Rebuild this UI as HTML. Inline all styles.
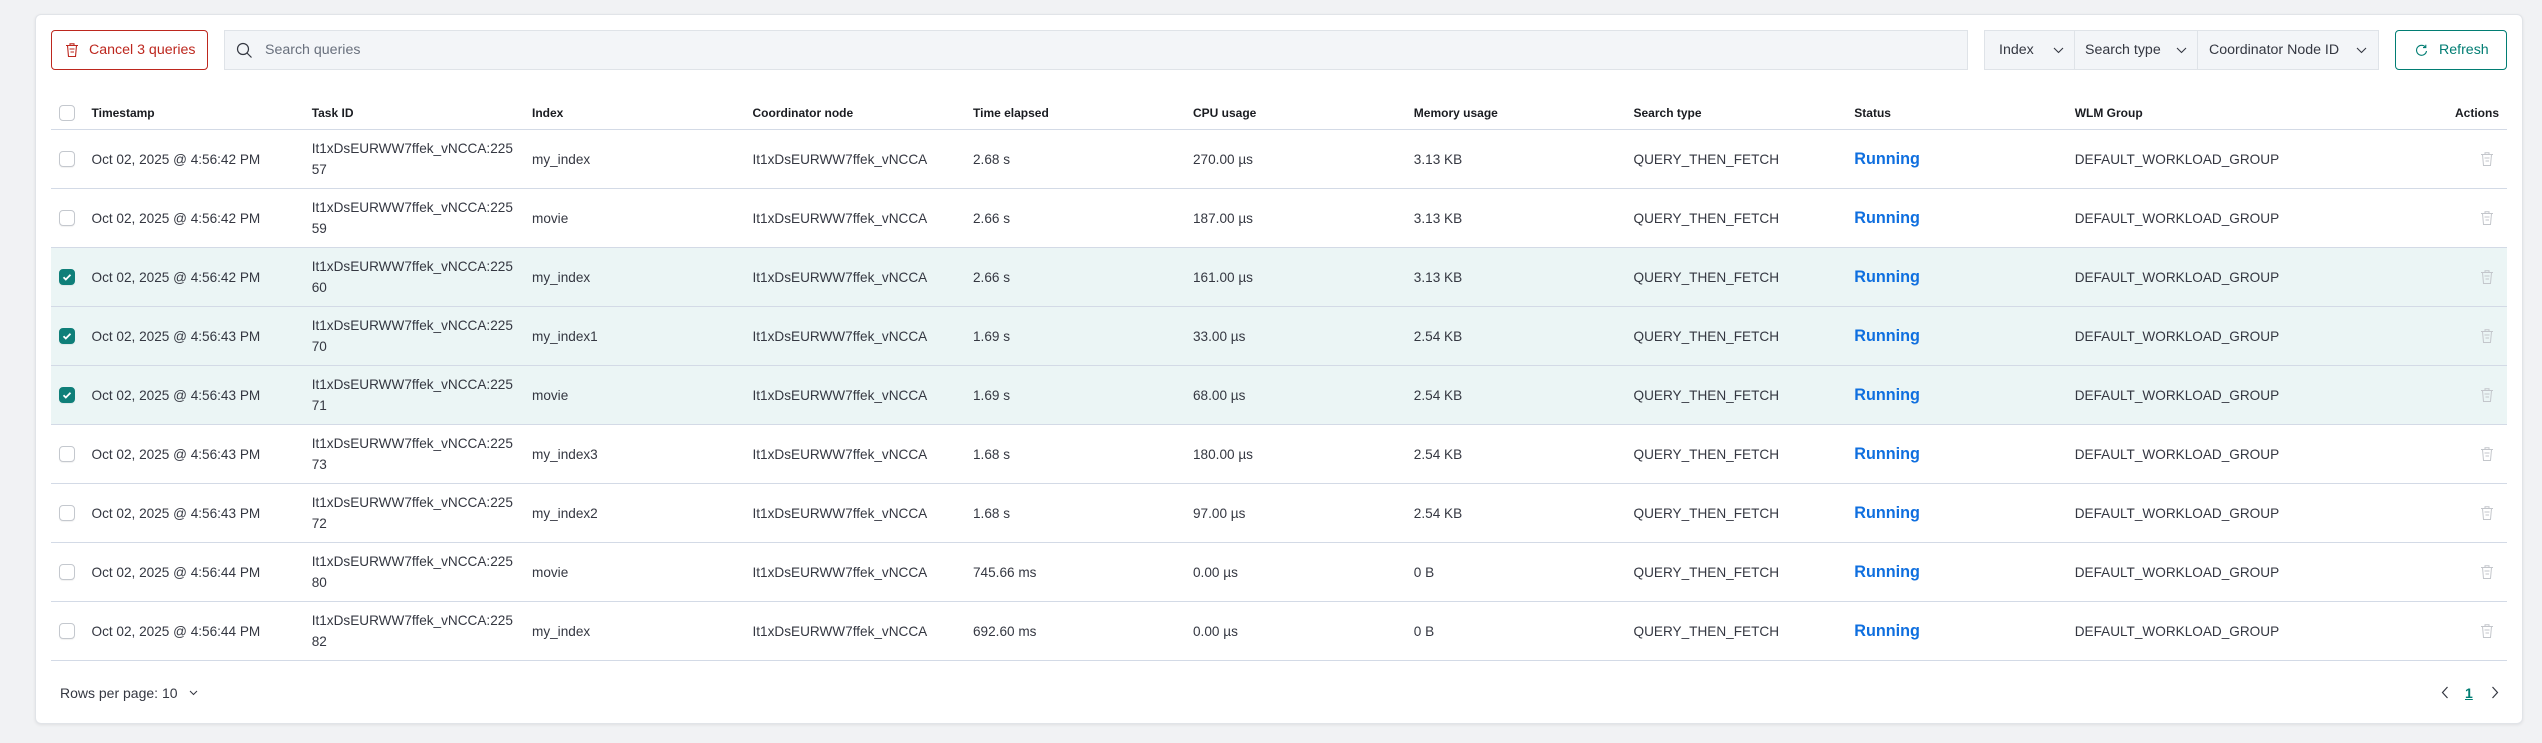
<!DOCTYPE html>
<html><head><meta charset="utf-8">
<style>
*{box-sizing:border-box}
body{margin:0;width:2542px;height:743px;background:#f1f2f4;overflow:hidden;font-family:"Liberation Sans",sans-serif;position:relative;color:#343741}
.abs{position:absolute}
.card{position:absolute;left:35px;top:14px;width:2488px;height:710px;background:#fff;border:1px solid #e1e4e8;border-radius:6px;box-shadow:0 1px 3px rgba(0,0,0,.08)}
.btn{position:absolute;top:30px;height:40px;border-radius:4px;display:flex;align-items:center;font-size:14.2px;white-space:nowrap}
.field{position:absolute;top:30px;height:40px;background:#f3f5f8;border:1px solid #dfe3e8;display:flex;align-items:center;font-size:14.2px;white-space:nowrap}
.line{position:absolute;left:51px;width:2456px;height:1px;background:#d3dae6}
.row{position:absolute;left:51px;width:2456px;height:58px}
.sel{background:#ebf5f5}
.c{position:absolute;top:0;height:100%;display:flex;align-items:center;white-space:nowrap;font-size:13.6px;line-height:21px}
.h{position:absolute;top:95px;height:35px;display:flex;align-items:center;white-space:nowrap;font-size:12px;font-weight:bold;color:#1a1c21}
.cb{position:absolute;left:8px;width:16px;height:16px;border:1px solid #c4c8ce;border-radius:4px;background:#fff;box-shadow:0 1px 1px rgba(0,0,0,.06)}
.cb.on{background:#0f7f79;border-color:#0f7f79}
.run{font-weight:bold;color:#0f6fdf;font-size:16.2px}
.tr{position:absolute;left:2428px;width:16px;height:16px}
</style></head><body>
<div class="card"></div>

<!-- toolbar -->
<div class="btn" style="left:51px;width:157px;border:1px solid #bd271e;color:#bd271e">
  <svg class="abs" style="left:12px;top:11px" width="16" height="16" viewBox="0 0 16 16" fill="none" stroke="#bd271e" stroke-width="1.1"><path d="M2 3.5h12M6 3.5V1.8h4v1.7M3.5 3.5l1 11h7l1-11M5.5 7h5M6.5 10h3.5"/></svg>
  <span class="abs" style="left:37px">Cancel 3 queries</span>
</div>
<div class="field" style="left:224px;width:1744px">
  <svg class="abs" style="left:11px;top:11px" width="17" height="17" viewBox="0 0 17 17" fill="none" stroke="#343741" stroke-width="1.2"><circle cx="7" cy="7" r="5.5"/><path d="M11 11l4.5 4.5"/></svg>
  <span class="abs" style="left:40px;color:#69707d">Search queries</span>
</div>
<div class="field" style="left:1984px;width:395px">
  <span class="abs" style="left:14px">Index</span>
  <svg class="abs" style="left:68px;top:16px" width="11" height="7" viewBox="0 0 11 7" fill="none" stroke="#343741" stroke-width="1.1"><path d="M1 1l4.5 4.5L10 1"/></svg>
  <div class="abs" style="left:89px;top:0;width:1px;height:38px;background:#dfe3e8"></div>
  <span class="abs" style="left:100px">Search type</span>
  <svg class="abs" style="left:191px;top:16px" width="11" height="7" viewBox="0 0 11 7" fill="none" stroke="#343741" stroke-width="1.1"><path d="M1 1l4.5 4.5L10 1"/></svg>
  <div class="abs" style="left:212px;top:0;width:1px;height:38px;background:#dfe3e8"></div>
  <span class="abs" style="left:224px">Coordinator Node ID</span>
  <svg class="abs" style="left:371px;top:16px" width="11" height="7" viewBox="0 0 11 7" fill="none" stroke="#343741" stroke-width="1.1"><path d="M1 1l4.5 4.5L10 1"/></svg>
</div>
<div class="btn" style="left:2395px;width:112px;border:1px solid #017d73;color:#017d73">
  <svg class="abs" style="left:19px;top:13px" width="13" height="13" viewBox="0 0 13 13" fill="none" stroke="#017d73" stroke-width="1.1"><path d="M10.5 3.2A5 5 0 1 0 11.5 7"/><path d="M10.8 0.8v2.8H8"/></svg>
  <span class="abs" style="left:43px">Refresh</span>
</div>

<!-- header -->
<div class="abs" style="left:59px;top:105px;width:16px;height:16px;border:1px solid #c4c8ce;border-radius:4px;background:#fff"></div>
<div class="h" style="left:91.5px">Timestamp</div>
<div class="h" style="left:311.7px">Task ID</div>
<div class="h" style="left:532px">Index</div>
<div class="h" style="left:752.5px">Coordinator node</div>
<div class="h" style="left:973px">Time elapsed</div>
<div class="h" style="left:1193px">CPU usage</div>
<div class="h" style="left:1413.8px">Memory usage</div>
<div class="h" style="left:1633.5px">Search type</div>
<div class="h" style="left:1854.3px">Status</div>
<div class="h" style="left:2074.7px">WLM Group</div>
<div class="h" style="left:2420px;width:79px;justify-content:flex-end">Actions</div>

<!-- selected backgrounds -->
<div class="row sel" style="top:248px"></div>
<div class="row sel" style="top:307px"></div>
<div class="row sel" style="top:366px"></div>

<!-- lines -->
<div class="line" style="top:129px"></div>
<div class="line" style="top:188px"></div>
<div class="line" style="top:247px"></div>
<div class="line" style="top:306px"></div>
<div class="line" style="top:365px"></div>
<div class="line" style="top:424px"></div>
<div class="line" style="top:483px"></div>
<div class="line" style="top:542px"></div>
<div class="line" style="top:601px"></div>
<div class="line" style="top:660px"></div>

<!-- rows -->
<div class="row" style="top:130px">
<div class="cb" style="top:21px"></div>
<div class="c" style="left:40.5px">Oct 02, 2025 @ 4:56:42 PM</div>
<div class="c" style="left:260.7px">It1xDsEURWW7ffek_vNCCA:225<br>57</div>
<div class="c" style="left:481px">my_index</div>
<div class="c" style="left:701.5px">It1xDsEURWW7ffek_vNCCA</div>
<div class="c" style="left:922px">2.68 s</div>
<div class="c" style="left:1142px">270.00 µs</div>
<div class="c" style="left:1362.8px">3.13 KB</div>
<div class="c" style="left:1582.5px">QUERY_THEN_FETCH</div>
<div class="c run" style="left:1803.3px">Running</div>
<div class="c" style="left:2023.7px">DEFAULT_WORKLOAD_GROUP</div>
<svg class="tr" style="top:21px" viewBox="0 0 16 16" fill="none" stroke="#c3c6cb" stroke-width="1"><path d="M2 3.5h12M6 3.5V1.8h4v1.7M3.5 3.5l1 11h7l1-11M5.5 7h5M6.5 10h3.5"/></svg>
</div>

<div class="row" style="top:189px">
<div class="cb" style="top:21px"></div>
<div class="c" style="left:40.5px">Oct 02, 2025 @ 4:56:42 PM</div>
<div class="c" style="left:260.7px">It1xDsEURWW7ffek_vNCCA:225<br>59</div>
<div class="c" style="left:481px">movie</div>
<div class="c" style="left:701.5px">It1xDsEURWW7ffek_vNCCA</div>
<div class="c" style="left:922px">2.66 s</div>
<div class="c" style="left:1142px">187.00 µs</div>
<div class="c" style="left:1362.8px">3.13 KB</div>
<div class="c" style="left:1582.5px">QUERY_THEN_FETCH</div>
<div class="c run" style="left:1803.3px">Running</div>
<div class="c" style="left:2023.7px">DEFAULT_WORKLOAD_GROUP</div>
<svg class="tr" style="top:21px" viewBox="0 0 16 16" fill="none" stroke="#c3c6cb" stroke-width="1"><path d="M2 3.5h12M6 3.5V1.8h4v1.7M3.5 3.5l1 11h7l1-11M5.5 7h5M6.5 10h3.5"/></svg>
</div>

<div class="row" style="top:248px">
<div class="cb on" style="top:21px"><svg width="14" height="14" viewBox="0 0 14 14" fill="none" stroke="#fff" stroke-width="1.8"><path d="M3.5 7.2l2.3 2.3L10.5 4.8"/></svg></div>
<div class="c" style="left:40.5px">Oct 02, 2025 @ 4:56:42 PM</div>
<div class="c" style="left:260.7px">It1xDsEURWW7ffek_vNCCA:225<br>60</div>
<div class="c" style="left:481px">my_index</div>
<div class="c" style="left:701.5px">It1xDsEURWW7ffek_vNCCA</div>
<div class="c" style="left:922px">2.66 s</div>
<div class="c" style="left:1142px">161.00 µs</div>
<div class="c" style="left:1362.8px">3.13 KB</div>
<div class="c" style="left:1582.5px">QUERY_THEN_FETCH</div>
<div class="c run" style="left:1803.3px">Running</div>
<div class="c" style="left:2023.7px">DEFAULT_WORKLOAD_GROUP</div>
<svg class="tr" style="top:21px" viewBox="0 0 16 16" fill="none" stroke="#c3c6cb" stroke-width="1"><path d="M2 3.5h12M6 3.5V1.8h4v1.7M3.5 3.5l1 11h7l1-11M5.5 7h5M6.5 10h3.5"/></svg>
</div>

<div class="row" style="top:307px">
<div class="cb on" style="top:21px"><svg width="14" height="14" viewBox="0 0 14 14" fill="none" stroke="#fff" stroke-width="1.8"><path d="M3.5 7.2l2.3 2.3L10.5 4.8"/></svg></div>
<div class="c" style="left:40.5px">Oct 02, 2025 @ 4:56:43 PM</div>
<div class="c" style="left:260.7px">It1xDsEURWW7ffek_vNCCA:225<br>70</div>
<div class="c" style="left:481px">my_index1</div>
<div class="c" style="left:701.5px">It1xDsEURWW7ffek_vNCCA</div>
<div class="c" style="left:922px">1.69 s</div>
<div class="c" style="left:1142px">33.00 µs</div>
<div class="c" style="left:1362.8px">2.54 KB</div>
<div class="c" style="left:1582.5px">QUERY_THEN_FETCH</div>
<div class="c run" style="left:1803.3px">Running</div>
<div class="c" style="left:2023.7px">DEFAULT_WORKLOAD_GROUP</div>
<svg class="tr" style="top:21px" viewBox="0 0 16 16" fill="none" stroke="#c3c6cb" stroke-width="1"><path d="M2 3.5h12M6 3.5V1.8h4v1.7M3.5 3.5l1 11h7l1-11M5.5 7h5M6.5 10h3.5"/></svg>
</div>

<div class="row" style="top:366px">
<div class="cb on" style="top:21px"><svg width="14" height="14" viewBox="0 0 14 14" fill="none" stroke="#fff" stroke-width="1.8"><path d="M3.5 7.2l2.3 2.3L10.5 4.8"/></svg></div>
<div class="c" style="left:40.5px">Oct 02, 2025 @ 4:56:43 PM</div>
<div class="c" style="left:260.7px">It1xDsEURWW7ffek_vNCCA:225<br>71</div>
<div class="c" style="left:481px">movie</div>
<div class="c" style="left:701.5px">It1xDsEURWW7ffek_vNCCA</div>
<div class="c" style="left:922px">1.69 s</div>
<div class="c" style="left:1142px">68.00 µs</div>
<div class="c" style="left:1362.8px">2.54 KB</div>
<div class="c" style="left:1582.5px">QUERY_THEN_FETCH</div>
<div class="c run" style="left:1803.3px">Running</div>
<div class="c" style="left:2023.7px">DEFAULT_WORKLOAD_GROUP</div>
<svg class="tr" style="top:21px" viewBox="0 0 16 16" fill="none" stroke="#c3c6cb" stroke-width="1"><path d="M2 3.5h12M6 3.5V1.8h4v1.7M3.5 3.5l1 11h7l1-11M5.5 7h5M6.5 10h3.5"/></svg>
</div>

<div class="row" style="top:425px">
<div class="cb" style="top:21px"></div>
<div class="c" style="left:40.5px">Oct 02, 2025 @ 4:56:43 PM</div>
<div class="c" style="left:260.7px">It1xDsEURWW7ffek_vNCCA:225<br>73</div>
<div class="c" style="left:481px">my_index3</div>
<div class="c" style="left:701.5px">It1xDsEURWW7ffek_vNCCA</div>
<div class="c" style="left:922px">1.68 s</div>
<div class="c" style="left:1142px">180.00 µs</div>
<div class="c" style="left:1362.8px">2.54 KB</div>
<div class="c" style="left:1582.5px">QUERY_THEN_FETCH</div>
<div class="c run" style="left:1803.3px">Running</div>
<div class="c" style="left:2023.7px">DEFAULT_WORKLOAD_GROUP</div>
<svg class="tr" style="top:21px" viewBox="0 0 16 16" fill="none" stroke="#c3c6cb" stroke-width="1"><path d="M2 3.5h12M6 3.5V1.8h4v1.7M3.5 3.5l1 11h7l1-11M5.5 7h5M6.5 10h3.5"/></svg>
</div>

<div class="row" style="top:484px">
<div class="cb" style="top:21px"></div>
<div class="c" style="left:40.5px">Oct 02, 2025 @ 4:56:43 PM</div>
<div class="c" style="left:260.7px">It1xDsEURWW7ffek_vNCCA:225<br>72</div>
<div class="c" style="left:481px">my_index2</div>
<div class="c" style="left:701.5px">It1xDsEURWW7ffek_vNCCA</div>
<div class="c" style="left:922px">1.68 s</div>
<div class="c" style="left:1142px">97.00 µs</div>
<div class="c" style="left:1362.8px">2.54 KB</div>
<div class="c" style="left:1582.5px">QUERY_THEN_FETCH</div>
<div class="c run" style="left:1803.3px">Running</div>
<div class="c" style="left:2023.7px">DEFAULT_WORKLOAD_GROUP</div>
<svg class="tr" style="top:21px" viewBox="0 0 16 16" fill="none" stroke="#c3c6cb" stroke-width="1"><path d="M2 3.5h12M6 3.5V1.8h4v1.7M3.5 3.5l1 11h7l1-11M5.5 7h5M6.5 10h3.5"/></svg>
</div>

<div class="row" style="top:543px">
<div class="cb" style="top:21px"></div>
<div class="c" style="left:40.5px">Oct 02, 2025 @ 4:56:44 PM</div>
<div class="c" style="left:260.7px">It1xDsEURWW7ffek_vNCCA:225<br>80</div>
<div class="c" style="left:481px">movie</div>
<div class="c" style="left:701.5px">It1xDsEURWW7ffek_vNCCA</div>
<div class="c" style="left:922px">745.66 ms</div>
<div class="c" style="left:1142px">0.00 µs</div>
<div class="c" style="left:1362.8px">0 B</div>
<div class="c" style="left:1582.5px">QUERY_THEN_FETCH</div>
<div class="c run" style="left:1803.3px">Running</div>
<div class="c" style="left:2023.7px">DEFAULT_WORKLOAD_GROUP</div>
<svg class="tr" style="top:21px" viewBox="0 0 16 16" fill="none" stroke="#c3c6cb" stroke-width="1"><path d="M2 3.5h12M6 3.5V1.8h4v1.7M3.5 3.5l1 11h7l1-11M5.5 7h5M6.5 10h3.5"/></svg>
</div>

<div class="row" style="top:602px">
<div class="cb" style="top:21px"></div>
<div class="c" style="left:40.5px">Oct 02, 2025 @ 4:56:44 PM</div>
<div class="c" style="left:260.7px">It1xDsEURWW7ffek_vNCCA:225<br>82</div>
<div class="c" style="left:481px">my_index</div>
<div class="c" style="left:701.5px">It1xDsEURWW7ffek_vNCCA</div>
<div class="c" style="left:922px">692.60 ms</div>
<div class="c" style="left:1142px">0.00 µs</div>
<div class="c" style="left:1362.8px">0 B</div>
<div class="c" style="left:1582.5px">QUERY_THEN_FETCH</div>
<div class="c run" style="left:1803.3px">Running</div>
<div class="c" style="left:2023.7px">DEFAULT_WORKLOAD_GROUP</div>
<svg class="tr" style="top:21px" viewBox="0 0 16 16" fill="none" stroke="#c3c6cb" stroke-width="1"><path d="M2 3.5h12M6 3.5V1.8h4v1.7M3.5 3.5l1 11h7l1-11M5.5 7h5M6.5 10h3.5"/></svg>
</div>

<!-- footer -->
<div class="abs" style="left:60px;top:683px;height:20px;display:flex;align-items:center;font-size:14px;white-space:nowrap">Rows per page: 10</div>
<svg class="abs" style="left:189px;top:690px" width="9" height="6" viewBox="0 0 9 6" fill="none" stroke="#343741" stroke-width="1"><path d="M1 1l3.5 3.5L8 1"/></svg>
<svg class="abs" style="left:2441px;top:686px" width="8" height="13" viewBox="0 0 8 13" fill="none" stroke="#343741" stroke-width="1.2"><path d="M6.5 1L1.5 6.5l5 5.5"/></svg>
<div class="abs" style="left:2465px;top:683px;height:20px;display:flex;align-items:center;font-size:14px;font-weight:bold;color:#017d73;text-decoration:underline">1</div>
<svg class="abs" style="left:2491px;top:686px" width="8" height="13" viewBox="0 0 8 13" fill="none" stroke="#343741" stroke-width="1.2"><path d="M1.5 1l5 5.5-5 5.5"/></svg>
</body></html>
